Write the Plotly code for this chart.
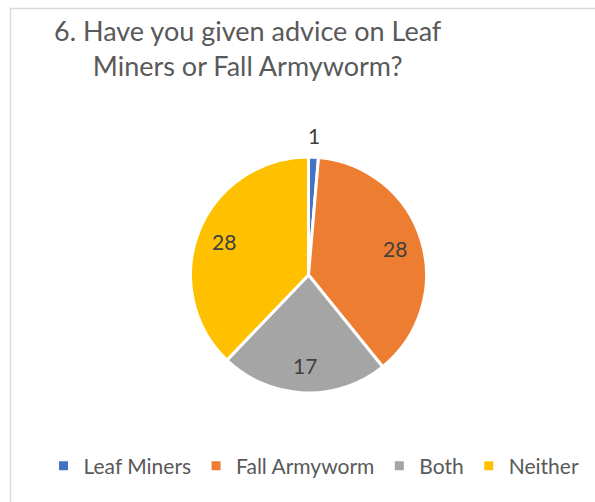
import math
import plotly.graph_objects as go

W, H = 595, 502

categories = ["Leaf Miners", "Fall Armyworm", "Both", "Neither"]
counts = [1, 28, 17, 28]
colors = ["#4472C4", "#ED7D31", "#A5A5A5", "#FFC000"]

title_text = "6. Have you given advice on Leaf<br>Miners or Fall Armyworm?"
FONT = "Lato, 'Open Sans', sans-serif"
GREY = "#595959"
LABEL_GREY = "#404040"

# pie placement in pixels
cx, cy, r = 308.5, 275, 118


def px_x(x):
    return x / W


def px_y(y):
    return 1 - y / H


fig = go.Figure(
    go.Pie(
        labels=categories,
        values=counts,
        sort=False,
        direction="clockwise",
        rotation=0,
        marker=dict(colors=colors, line=dict(color="white", width=3)),
        textinfo="none",
        hoverinfo="label+value",
        domain=dict(x=[px_x(cx - r), px_x(cx + r)], y=[px_y(cy + r), px_y(cy - r)]),
        showlegend=True,
    )
)

# value labels placed along each slice's bisector (clockwise from 12 o'clock)
total = sum(counts)
start = 0.0
for v in counts:
    sweep = 360.0 * v / total
    mid = math.radians(start + sweep / 2)
    start += sweep
    # thin slices get their label just outside the rim
    dist = r + 22 if sweep < 15 else 0.77 * r
    lx = cx + dist * math.sin(mid)
    ly = cy - dist * math.cos(mid)
    fig.add_annotation(
        text=str(v),
        x=px_x(lx), y=px_y(ly),
        xref="paper", yref="paper",
        xanchor="center", yanchor="middle",
        showarrow=False,
        font=dict(family=FONT, size=21, color=LABEL_GREY),
    )

fig.add_annotation(
    text=title_text,
    x=px_x(248), y=px_y(12),
    xref="paper", yref="paper",
    xanchor="center", yanchor="top",
    align="center",
    showarrow=False,
    font=dict(family=FONT, size=27, color=GREY),
)

# chart frame
fig.add_shape(
    type="rect", xref="paper", yref="paper",
    x0=px_x(10.5), x1=px_x(W + 20), y0=px_y(H + 20), y1=px_y(8.5),
    line=dict(color="#D9D9D9", width=1.5), fillcolor="rgba(0,0,0,0)", layer="below",
)

fig.update_layout(
    width=W, height=H,
    margin=dict(l=0, r=0, t=0, b=0),
    paper_bgcolor="white",
    plot_bgcolor="white",
    legend=dict(
        orientation="h",
        x=px_x(314), xanchor="center",
        y=px_y(466), yanchor="middle",
        font=dict(family=FONT, size=21, color=GREY),
        itemwidth=30,
        tracegroupgap=0,
    ),
)

fig.write_html("out.html")
